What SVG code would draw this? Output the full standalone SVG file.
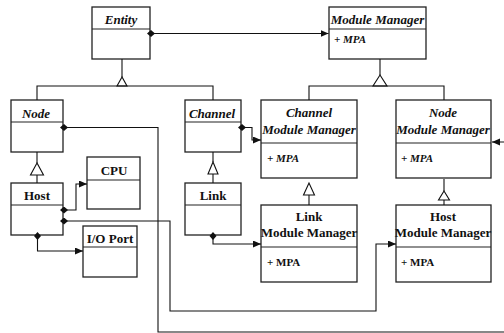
<svg xmlns="http://www.w3.org/2000/svg" width="504" height="333" viewBox="0 0 504 333">
<defs>
<marker id="arrow" markerUnits="userSpaceOnUse" markerWidth="9" markerHeight="8" refX="8" refY="3.5" orient="auto">
<path d="M0,0 L8,3.5 L0,7 z" fill="#111"/>
</marker>
<marker id="diamond" markerUnits="userSpaceOnUse" markerWidth="9" markerHeight="8" refX="4" refY="3.5" orient="auto">
<path d="M0,3.5 L4,0 L8,3.5 L4,7 z" fill="#111"/>
</marker>
<style>
.box{fill:#fff;stroke:#222;stroke-width:1.3}
.div{stroke:#222;stroke-width:1.2}
.ln{fill:none;stroke:#111;stroke-width:1.1}
.tri{fill:#fff;stroke:#111;stroke-width:1.1}
text{font-family:"Times New Roman",Times,Tinos,"Liberation Serif","Noto Serif","DejaVu Serif",serif;font-weight:bold;font-size:13px;fill:#111}
.it{font-style:italic}
.c{text-anchor:middle}
.attr{font-size:11px}
</style>
</defs>
<rect width="504" height="333" fill="#fff"/>

<g id="entity">
<rect class="box" x="92" y="7" width="58" height="52"/>
<line class="div" x1="92" y1="29" x2="150" y2="29"/>
<text class="it c" x="121" y="24">Entity</text>
</g>

<g id="module-manager">
<rect class="box" x="329" y="7" width="97" height="52"/>
<line class="div" x1="329" y1="29" x2="426" y2="29"/>
<text class="it c" x="377.5" y="24">Module Manager</text>
<text class="it attr" x="334" y="43">+ MPA</text>
</g>

<g id="node">
<rect class="box" x="11" y="100" width="52" height="52"/>
<line class="div" x1="11" y1="122" x2="63" y2="122"/>
<text class="it c" x="36" y="118">Node</text>
</g>

<g id="channel">
<rect class="box" x="185" y="100" width="56" height="52"/>
<line class="div" x1="185" y1="122" x2="241" y2="122"/>
<text class="it c" x="212" y="118">Channel</text>
</g>

<g id="channel-module-manager">
<rect class="box" x="261" y="100" width="96" height="78"/>
<line class="div" x1="261" y1="143" x2="357" y2="143"/>
<text class="it c" x="309" y="117">Channel</text>
<text class="it c" x="309" y="134">Module Manager</text>
<text class="it attr" x="267" y="162">+ MPA</text>
</g>

<g id="node-module-manager">
<rect class="box" x="396" y="100" width="95" height="78"/>
<line class="div" x1="396" y1="143" x2="491" y2="143"/>
<text class="it c" x="443" y="117">Node</text>
<text class="it c" x="443" y="134">Module Manager</text>
<text class="it attr" x="401" y="162">+ MPA</text>
</g>

<g id="host">
<rect class="box" x="11" y="183" width="52" height="52"/>
<line class="div" x1="11" y1="205" x2="63" y2="205"/>
<text class="c" x="37" y="200">Host</text>
</g>

<g id="cpu">
<rect class="box" x="87" y="157" width="53" height="52"/>
<line class="div" x1="87" y1="180" x2="140" y2="180"/>
<text class="c" x="114" y="175">CPU</text>
</g>

<g id="io-port">
<rect class="box" x="83" y="226" width="54" height="51"/>
<line class="div" x1="83" y1="247" x2="137" y2="247"/>
<text class="c" x="110" y="243">I/O Port</text>
</g>

<g id="link">
<rect class="box" x="185" y="183" width="56" height="52"/>
<line class="div" x1="185" y1="205" x2="241" y2="205"/>
<text class="c" x="213" y="200">Link</text>
</g>

<g id="link-module-manager">
<rect class="box" x="261" y="205" width="96" height="77"/>
<line class="div" x1="261" y1="247" x2="357" y2="247"/>
<text class="c" x="309" y="221">Link</text>
<text class="c" x="309" y="237">Module Manager</text>
<text class="attr" x="267" y="266">+ MPA</text>
</g>

<g id="host-module-manager">
<rect class="box" x="396" y="205" width="95" height="77"/>
<line class="div" x1="396" y1="247" x2="491" y2="247"/>
<text class="c" x="443" y="221">Host</text>
<text class="c" x="443" y="237">Module Manager</text>
<text class="attr" x="401" y="266">+ MPA</text>
</g>

<g id="connectors">
<path class="ln" d="M122,59 V77"/>
<path class="tri" d="M122,77 L117,86 L127,86 z"/>
<path class="ln" d="M37,100 V86 H213 V100"/>
<path class="ln" d="M380,59 V75"/>
<path class="tri" d="M380,75 L373,86 L387,86 z"/>
<path class="ln" d="M309,100 V86 H444 V100"/>
<path class="ln" d="M37,152 V163"/>
<path class="tri" d="M37,163 L30.5,175 L43.5,175 z"/>
<path class="ln" d="M37,175 V183"/>
<path class="ln" d="M213,152 V162"/>
<path class="tri" d="M213,162 L208,174 L218,174 z"/>
<path class="ln" d="M213,174 V183"/>
<path class="tri" d="M309,183 L303.5,195 L314.5,195 z"/>
<path class="ln" d="M309,195 V205"/>
<path class="ln" d="M444,179 V191"/>
<path class="tri" d="M444,191 L438.5,200 L449.5,200 z"/>
<path class="ln" d="M444,200 V205"/>
<path class="ln" d="M151,33.5 H328.5" marker-start="url(#diamond)" marker-end="url(#arrow)"/>
<path class="ln" d="M64,127.5 H158 V332 H510 V142 H492" marker-start="url(#diamond)" marker-end="url(#arrow)"/>
<path class="ln" d="M242,127.5 H252 V140 H261" marker-start="url(#diamond)" marker-end="url(#arrow)"/>
<path class="ln" d="M64,210 H76 V184 H87" marker-start="url(#diamond)" marker-end="url(#arrow)"/>
<path class="ln" d="M64,221 H170 V311 H376 V244 H396" marker-start="url(#diamond)" marker-end="url(#arrow)"/>
<path class="ln" d="M37.5,236 V251 H83" marker-start="url(#diamond)" marker-end="url(#arrow)"/>
<path class="ln" d="M213,236 V244 H261" marker-start="url(#diamond)" marker-end="url(#arrow)"/>
</g>
</svg>
